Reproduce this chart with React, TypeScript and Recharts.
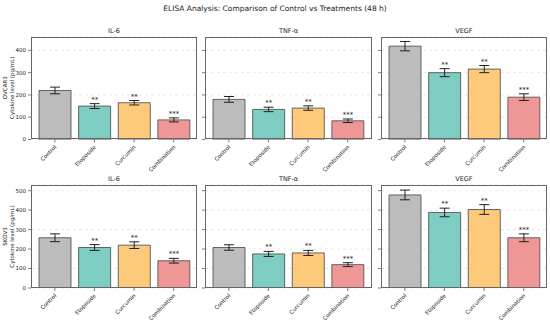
import React from "react";
import { BarChart, Bar, XAxis, YAxis, CartesianGrid, ErrorBar, Cell, LabelList } from "recharts";

const categories = ["Control", "Etoposide", "Curcumin", "Combination"];
const cytokines = ["IL-6", "TNF-α", "VEGF"];
const cellLines = ["OVCAR3", "SKOV3"];
const colors = ["#bcbcbc", "#7ecdc3", "#fdca7c", "#ef9696"];
const stars = ["", "**", "**", "***"];

const ovcar3IL6 = [220, 150, 165, 88];
const ovcar3IL6Err = [15, 11, 10, 9];
const ovcar3TNF = [180, 135, 141, 84];
const ovcar3TNFErr = [13, 10, 10, 8];
const ovcar3VEGF = [419, 300, 316, 190];
const ovcar3VEGFErr = [21, 18, 16, 15];

const skov3IL6 = [258, 208, 220, 140];
const skov3IL6Err = [20, 15, 17, 12];
const skov3TNF = [208, 175, 180, 120];
const skov3TNFErr = [14, 13, 13, 10];
const skov3VEGF = [478, 388, 403, 258];
const skov3VEGFErr = [25, 22, 25, 20];

const rowTicks = [
  [0, 100, 200, 300, 400],
  [0, 100, 200, 300, 400, 500],
];
const rowMax = [460, 529];

const panels = [
  [[ovcar3IL6, ovcar3IL6Err], [ovcar3TNF, ovcar3TNFErr], [ovcar3VEGF, ovcar3VEGFErr]],
  [[skov3IL6, skov3IL6Err], [skov3TNF, skov3TNFErr], [skov3VEGF, skov3VEGFErr]],
];

const FONT = "DejaVu Sans, sans-serif";
const colLeft = [30.7, 205.3, 380.7];
const plotW = 166.5;
const rowTop = [36.5, 185];
const plotH = [102.5, 103];
const YW = 30;
const MT = 5;
const XH = 40;

const XTick = (props: any) => {
  const { x, y, payload } = props;
  const tx = x + 2;
  const ty = y + 3;
  return (
    <text
      x={tx}
      y={ty}
      transform={`rotate(-45 ${tx} ${ty})`}
      textAnchor="end"
      fontSize={5.5}
      fill="#222"
      fontFamily={FONT}
    >
      {payload.value}
    </text>
  );
};

function Panel({ row, col }: { row: number; col: number }) {
  const [vals, errs] = panels[row][col];
  const data = categories.map((c, i) => ({ name: c, value: vals[i], err: errs[i], sig: stars[i] }));
  const left = colLeft[col];
  const top = rowTop[row];
  const h = plotH[row];

  const sigLabel = (p: any) => {
    const { x, y, width, height, index } = p;
    const d = data[index];
    if (!d.sig) return null;
    const errPx = (d.err * height) / d.value;
    return (
      <text
        x={x + width / 2}
        y={y - errPx - 2}
        textAnchor="middle"
        fontSize={7}
        fill="#222"
        fontFamily={FONT}
      >
        {d.sig}
      </text>
    );
  };

  return (
    <>
      <div style={{ position: "absolute", left: left - YW, top: top - MT }}>
        <BarChart
          width={YW + plotW + 5}
          height={MT + h + XH}
          data={data}
          margin={{ top: MT, right: 5, left: 0, bottom: 0 }}
          barSize={32}
        >
          <CartesianGrid vertical={false} strokeDasharray="3 3" stroke="#dedede" strokeWidth={0.7} />
          <XAxis
            dataKey="name"
            height={XH}
            axisLine={false}
            tickSize={3}
            tickLine={{ stroke: "#444", strokeWidth: 0.7 }}
            tick={<XTick />}
            interval={0}
            padding={{ left: 4, right: 4 }}
          />
          <YAxis
            width={YW}
            domain={[0, rowMax[row]]}
            ticks={rowTicks[row]}
            axisLine={false}
            tickSize={3}
            tickLine={{ stroke: "#444", strokeWidth: 0.7 }}
            tick={{ fontSize: 5.5, fill: "#222", fontFamily: FONT }}
            tickFormatter={(v: number) => (col === 0 ? String(v) : "")}
            allowDataOverflow
          />
          <Bar dataKey="value" stroke="#444" strokeWidth={0.8} isAnimationActive={false}>
            {data.map((d, i) => (
              <Cell key={d.name} fill={colors[i]} />
            ))}
            <ErrorBar dataKey="err" width={5} stroke="#222" strokeWidth={1} direction="y" />
            <LabelList dataKey="sig" content={sigLabel} />
          </Bar>
        </BarChart>
      </div>
      <div
        style={{
          position: "absolute",
          left: left,
          top: top,
          width: plotW,
          height: h,
          boxSizing: "border-box",
          border: "1px solid #666",
          pointerEvents: "none",
        }}
      />
    </>
  );
}

export default function App() {
  return (
    <div
      style={{
        position: "absolute",
        left: 0,
        top: 0,
        width: 550,
        height: 323,
        background: "#fff",
        fontFamily: FONT,
        overflow: "hidden",
      }}
    >
      {[0, 1].map((row) => [0, 1, 2].map((col) => <Panel key={`${row}-${col}`} row={row} col={col} />))}
      <svg
        width={550}
        height={323}
        style={{ position: "absolute", left: 0, top: 0, pointerEvents: "none" }}
        fontFamily={FONT}
      >
        <text x={275} y={11} textAnchor="middle" fontSize={7.5} fill="#222">
          ELISA Analysis: Comparison of Control vs Treatments (48 h)
        </text>
        {[0, 1].map((row) =>
          cytokines.map((c, col) => (
            <text
              key={`${row}-${c}`}
              x={colLeft[col] + plotW / 2}
              y={rowTop[row] - 4}
              textAnchor="middle"
              fontSize={6.5}
              fill="#222"
            >
              {c}
            </text>
          ))
        )}
        {cellLines.map((cl, row) => {
          const cy = rowTop[row] + plotH[row] / 2;
          return (
            <g key={cl} transform={`translate(0 ${cy}) rotate(-90)`}>
              <text x={0} y={7} textAnchor="middle" fontSize={5.5} fill="#222">
                {cl}
              </text>
              <text x={0} y={13.5} textAnchor="middle" fontSize={5.5} fill="#222">
                Cytokine level (pg/mL)
              </text>
            </g>
          );
        })}
      </svg>
    </div>
  );
}
